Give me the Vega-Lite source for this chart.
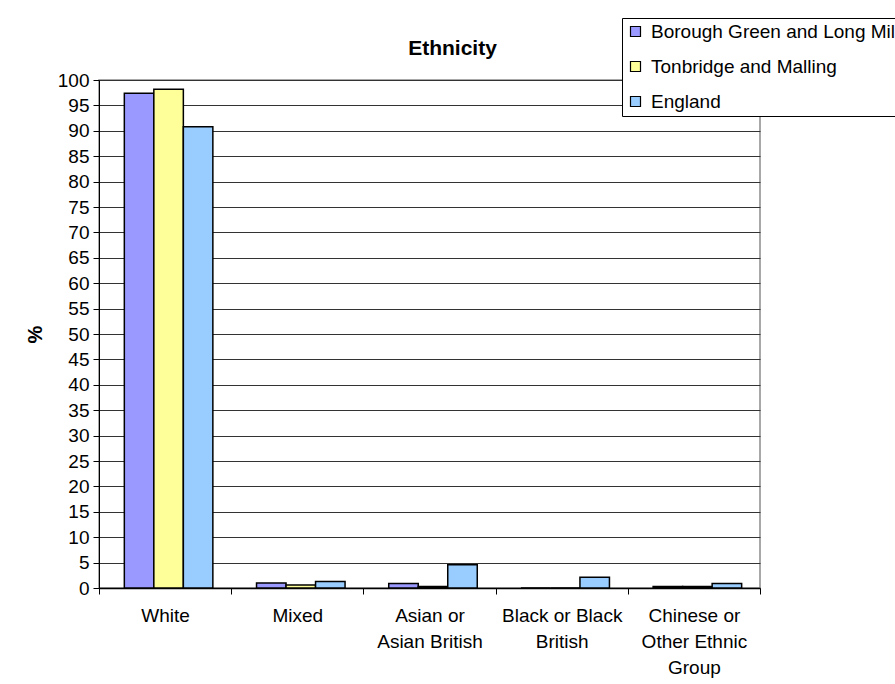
{
  "$schema": "https://vega.github.io/schema/vega-lite/v6.json",
  "width": 661,
  "height": 508,
  "autosize": "none",
  "padding": {"left": 99, "top": 80, "right": 135, "bottom": 96},
  "background": "white",
  "config": {
    "font": "Liberation Sans",
    "view": {"stroke": "#8c8c8c", "strokeWidth": 1.5},
    "axis": {"labelFont": "Liberation Sans", "titleFont": "Liberation Sans"}
  },
  "title": {
    "text": "Ethnicity",
    "font": "Liberation Sans",
    "fontSize": 21,
    "fontWeight": "bold",
    "color": "black",
    "anchor": "middle",
    "dx": 23,
    "offset": -41
  },
  "data": {
    "values": [
      {"group": "White", "area": "Borough Green and Long Mill", "pct": 97.4},
      {"group": "White", "area": "Tonbridge and Malling", "pct": 98.2},
      {"group": "White", "area": "England", "pct": 90.8},
      {"group": "Mixed", "area": "Borough Green and Long Mill", "pct": 1.0},
      {"group": "Mixed", "area": "Tonbridge and Malling", "pct": 0.6},
      {"group": "Mixed", "area": "England", "pct": 1.3},
      {"group": "Asian or Asian British", "area": "Borough Green and Long Mill", "pct": 0.9},
      {"group": "Asian or Asian British", "area": "Tonbridge and Malling", "pct": 0.3},
      {"group": "Asian or Asian British", "area": "England", "pct": 4.6},
      {"group": "Black or Black British", "area": "Borough Green and Long Mill", "pct": 0.0},
      {"group": "Black or Black British", "area": "Tonbridge and Malling", "pct": 0.0},
      {"group": "Black or Black British", "area": "England", "pct": 2.1},
      {"group": "Chinese or Other Ethnic Group", "area": "Borough Green and Long Mill", "pct": 0.3},
      {"group": "Chinese or Other Ethnic Group", "area": "Tonbridge and Malling", "pct": 0.3},
      {"group": "Chinese or Other Ethnic Group", "area": "England", "pct": 0.9}
    ]
  },
  "mark": {"type": "bar", "stroke": "black", "strokeWidth": 1.5},
  "encoding": {
    "x": {
      "field": "group",
      "type": "nominal",
      "sort": null,
      "scale": {"paddingInner": 0, "paddingOuter": 0},
      "axis": {
        "title": null,
        "labelAngle": 0,
        "labelFontSize": 19,
        "labelColor": "black",
        "labelPadding": 12,
        "labelLineHeight": 26,
        "labelBaseline": "top",
        "labelExpr": "datum.label == 'Asian or Asian British' ? ['Asian or', 'Asian British'] : datum.label == 'Black or Black British' ? ['Black or Black', 'British'] : datum.label == 'Chinese or Other Ethnic Group' ? ['Chinese or', 'Other Ethnic', 'Group'] : datum.label",
        "tickBand": "extent",
        "tickColor": "black",
        "tickSize": 6,
        "domainColor": "black",
        "domainWidth": 1.5,
        "labelLimit": 0
      }
    },
    "xOffset": {
      "field": "area",
      "type": "nominal",
      "sort": ["Borough Green and Long Mill", "Tonbridge and Malling", "England"],
      "scale": {"paddingInner": 0, "paddingOuter": 0.74, "align": 0.58}
    },
    "y": {
      "field": "pct",
      "type": "quantitative",
      "scale": {"domain": [0, 100], "nice": false},
      "axis": {
        "title": "%",
        "titleFontSize": 20,
        "titleFontWeight": "bold",
        "titleColor": "black",
        "titlePadding": 12,
        "values": [0, 5, 10, 15, 20, 25, 30, 35, 40, 45, 50, 55, 60, 65, 70, 75, 80, 85, 90, 95, 100],
        "labelFontSize": 19,
        "labelColor": "black",
        "labelPadding": 4,
        "tickColor": "black",
        "tickSize": 6,
        "domainColor": "black",
        "domainWidth": 1,
        "grid": true,
        "gridColor": "#333333",
        "gridWidth": 1
      }
    },
    "color": {
      "field": "area",
      "type": "nominal",
      "sort": ["Borough Green and Long Mill", "Tonbridge and Malling", "England"],
      "scale": {
        "domain": ["Borough Green and Long Mill", "Tonbridge and Malling", "England"],
        "range": ["#9999FF", "#FFFF99", "#99CCFF"]
      },
      "legend": {
        "title": null,
        "orient": "none",
        "legendX": 523,
        "legendY": -62,
        "symbolType": "square",
        "symbolSize": 100,
        "symbolStrokeColor": "black",
        "symbolStrokeWidth": 1.2,
        "labelFontSize": 19,
        "labelColor": "black",
        "labelLimit": 0,
        "labelOffset": 6,
        "rowPadding": 15,
        "padding": 4,
        "strokeColor": "black",
        "fillColor": "white",
        "cornerRadius": 0
      }
    }
  }
}
